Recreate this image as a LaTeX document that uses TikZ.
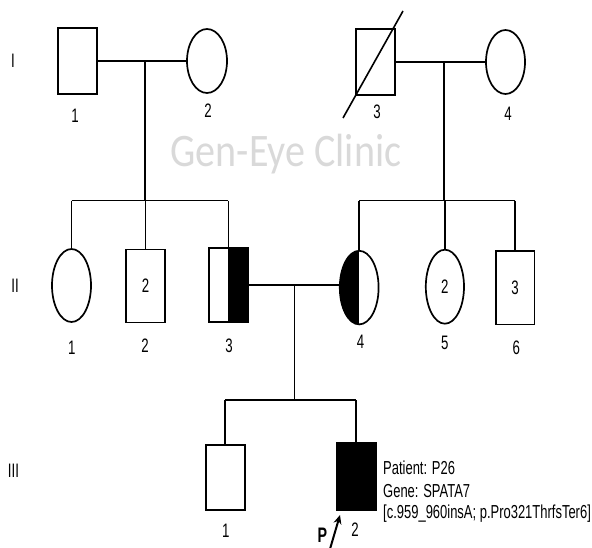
\documentclass[tikz,border=0pt]{standalone}
\usepackage{fontspec}
\setmainfont{Liberation Sans}
\newfontfamily\wmfont{Carlito}
\usetikzlibrary{shapes.geometric,arrows.meta}
\newcommand\lbl[1]{\scalebox{0.68}[1]{#1}}
\newcommand\infotxt[1]{\scalebox{0.69}[1]{#1}}
\tikzset{
  pline/.style={line width=1.8pt, black},
  male/.style={draw, line width=1.8pt, rectangle, inner sep=0pt, minimum width=39pt, minimum height=66pt, font=\fontsize{19.5}{22}\selectfont},
  female/.style={draw, line width=1.7pt, ellipse, inner sep=0pt, minimum width=39pt, minimum height=64pt, font=\fontsize{19.5}{22}\selectfont},
  lab/.style={inner sep=0pt, anchor=base, font=\fontsize{19.5}{22}\selectfont},
  info/.style={inner sep=0pt, anchor=base west, font=\fontsize{18.8}{22}\selectfont},
  righthalf/.style={path picture={\fill[black] (path picture bounding box.north) rectangle (path picture bounding box.south east);}},
  lefthalf/.style={path picture={\fill[black] (path picture bounding box.north west) rectangle (path picture bounding box.south);}},
}
\begin{document}
\begin{tikzpicture}[x=1pt,y=-1pt]
\useasboundingbox (0,0) rectangle (592,548);

% watermark
\node[inner sep=0pt, anchor=base, text=black!15, font=\wmfont\fontsize{46.6}{50}\selectfont] (wm) at (286,167) {\scalebox{0.86}[1]{Gen-Eye Clinic}};

% generation labels
\node[lab] (gI) at (13,68) {\lbl{I}};
\node[lab] (gII) at (15,293) {\lbl{II}};
\node[lab] (gIII) at (13.5,477) {\lbl{III}};

% generation I
\node[male] (I1) at (77.5,61) {};
\node[female, minimum width=40pt] (I2) at (207,61) {};
\node[male] (I3) at (375.5,62) {};
\node[female] (I4) at (505.5,62) {};
\draw[pline] (I1.east) -- (I2.west);
\draw[pline] (I3.east) -- (I4.west);
\coordinate (dA) at (343,118);
\coordinate (dB) at (403,11);
\draw[line width=1.6pt] (dA) -- (dB);
\node[lab] (lI1) at (75,123) {\lbl{1}};
\node[lab] (lI2) at (208,118) {\lbl{2}};
\node[lab] (lI3) at (377,119) {\lbl{3}};
\node[lab] (lI4) at (508,121) {\lbl{4}};

% descent lines from generation I
\coordinate (c1) at (145,61);
\coordinate (s1) at (145,200.6);
\coordinate (c2) at (444,62);
\coordinate (s2) at (444,200.6);
\draw[pline] (c1) -- (s1);
\draw[pline] (c2) -- (s2);

% generation II
\node[female, minimum width=39pt, minimum height=73pt] (II1) at (71.5,285.5) {};
\node[male, minimum width=39.6pt, minimum height=73pt] (II2) at (145.5,286) {\lbl{2}};
\node[male, righthalf, minimum width=39.2pt, minimum height=74pt] (II3) at (228.4,284.8) {};
\node[female, lefthalf, minimum width=38.8pt, minimum height=73.6pt] (II4) at (359.2,287.6) {};
\node[female, minimum width=38.2pt, minimum height=74pt] (II5) at (444.9,286.7) {\lbl{2}};
\node[male, minimum width=38.8pt, minimum height=73.6pt] (II6) at (515.1,287.6) {\lbl{3}};

\draw[pline] (II1.north |- s1) -- (II3.north |- s1);
\draw[pline] (II1.north |- s1) -- (II1.north);
\draw[pline] (II2.north |- s1) -- (II2.north);
\draw[pline] (II3.north |- s1) -- (II3.north);
\draw[pline] (II4.north |- s2) -- (II6.north |- s2);
\draw[pline] (II4.north |- s2) -- (II4.north);
\draw[pline] (II5.north |- s2) -- (II5.north);
\draw[pline] (II6.north |- s2) -- (II6.north);

\draw[pline] (II3.east) -- (II3.east -| II4.west);

\node[lab] (lII1) at (71.7,354.6) {\lbl{1}};
\node[lab] (lII2) at (145,352.7) {\lbl{2}};
\node[lab] (lII3) at (229,352) {\lbl{3}};
\node[lab] (lII4) at (360.5,348) {\lbl{4}};
\node[lab] (lII5) at (444.7,349.7) {\lbl{5}};
\node[lab] (lII6) at (516.4,354.6) {\lbl{6}};

% descent to generation III
\coordinate (c3) at (294.5,284.8);
\coordinate (s3) at (294.5,400);
\draw[pline] (c3) -- (s3);

% generation III
\node[male, minimum width=38.7pt, minimum height=65.3pt] (III1) at (225.3,477.6) {};
\node[male, fill=black, minimum width=39pt, minimum height=66.4pt] (III2) at (356.2,476.5) {};
\draw[pline] (III1.north |- s3) -- (III2.north |- s3);
\draw[pline] (III1.north |- s3) -- (III1.north);
\draw[pline] (III2.north |- s3) -- (III2.north);

\node[lab] (lIII1) at (225.7,537) {\lbl{1}};
\node[lab] (lIII2) at (355,536.7) {\lbl{2}};

% proband arrow
\node[lab, font=\bfseries\fontsize{21}{24}\selectfont] (prb) at (322.5,542) {\lbl{P}};
\coordinate (arT) at (330,549);
\coordinate (arH) at (340,515);
\draw[line width=2pt, -{Stealth[length=9pt,width=8pt]}] (arT) -- (arH);

% patient info
\node[info] (inf1) at (383,474) {\infotxt{Patient: P26}};
\node[info] (inf2) at (383,497) {\infotxt{Gene: SPATA7}};
\node[info] (inf3) at (383,518) {\infotxt{[c.959\_960insA; p.Pro321ThrfsTer6]}};
\end{tikzpicture}
\end{document}
